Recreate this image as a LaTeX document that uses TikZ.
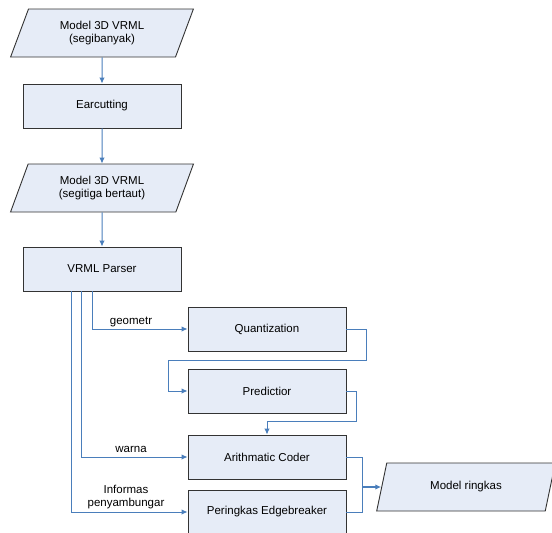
\documentclass[tikz,border=0pt]{standalone}
\usepackage{fontspec}
\setmainfont{Liberation Sans}
\usetikzlibrary{shapes.geometric,arrows.meta}
\definecolor{boxfill}{HTML}{E6ECF7}
\definecolor{linec}{HTML}{4A7EBB}
\begin{document}
\begin{tikzpicture}[x=1pt,y=-1pt,
  txt/.style={font=\fontsize{11.5pt}{13.5pt}\selectfont},
  proc/.style={txt, draw=black!80, fill=boxfill, minimum width=158pt, minimum height=44pt, inner sep=0pt, line width=0.9pt},
  io/.style={txt, trapezium, trapezium left angle=67, trapezium right angle=113, trapezium stretches=true, draw=black!80, fill=boxfill, minimum width=183pt, minimum height=48pt, inner sep=0pt, align=center, line width=0.9pt},
  wire/.style={draw=linec, line width=1pt},
  conn/.style={wire, -{Latex[length=6pt,width=5.5pt]}},
  lbl/.style={txt, inner sep=0pt, align=center}]
\useasboundingbox (0,0) rectangle (552,533);
\node[io] (p1) at (102,33) {Model 3D VRML\\(segibanyak)};
\node[proc] (ear) at (102,106) {Earcutting};
\node[io] (p2) at (102,188) {Model 3D VRML\\(segitiga bertaut)};
\node[proc] (vp) at (102,269) {VRML Parser};
\node[proc] (q) at (267,329) {Quantization};
\node[proc] (pr) at (267,391) {Predictior};
\node[proc] (ac) at (267,457) {Arithmatic Coder};
\node[proc] (pe) at (267,512) {Peringkas Edgebreaker};
\node[io, minimum width=180pt] (mr) at (466,487) {Model ringkas};
\node[lbl] (lg) at (131,322) {geometr};
\node[lbl] (lw) at (131,449) {warna};
\node[lbl] (li) at (126,497) {Informas\\penyambungar};

\draw[conn] (p1.south) -- (ear.north);
\draw[conn] (ear.south) -- (p2.north);
\draw[conn] (p2.south) -- (vp.north);
\draw[conn] ([xshift=-10pt]vp.south) |- (q.west);
\draw[conn] (q.east) -- ++(20,0) |- (168,360) |- (pr.west);
\draw[conn] (pr.east) -- ++(10,0) |- (267,421) -- (ac.north);
\draw[conn] ([xshift=-21pt]vp.south) |- (ac.west);
\draw[conn] ([xshift=-31pt]vp.south) |- (pe.west);
\draw[wire] (ac.east) -- ++(16,0) coordinate (j0) |- (pe.east);
\draw[conn, line width=1.8pt] (j0 |- mr.west) -- (mr.west);
\end{tikzpicture}
\end{document}
